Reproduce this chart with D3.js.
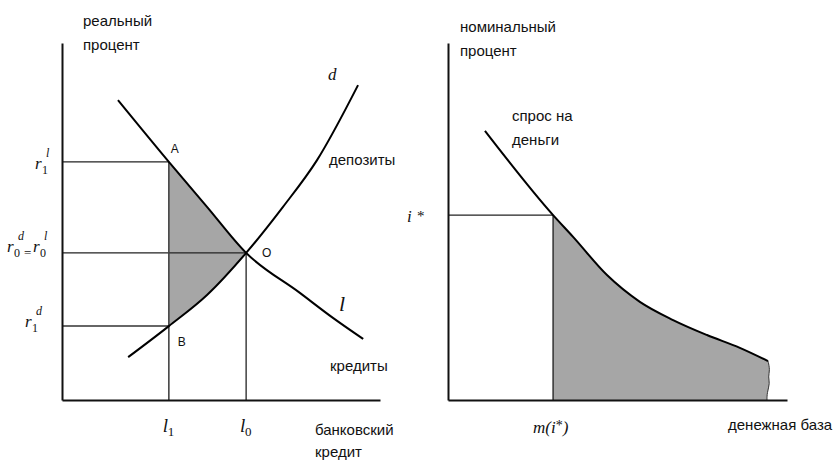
<!DOCTYPE html>
<html>
<head>
<meta charset="utf-8">
<script src="https://cdn.jsdelivr.net/npm/d3@7"></script>
<style>
  html, body { margin: 0; padding: 0; background: #fff; }
  svg { display: block; }
  .lbl { font-family: "Liberation Sans", Arial, sans-serif; font-size: 15px; fill: #111; }
  .pt  { font-family: "Liberation Sans", Arial, sans-serif; font-size: 12px; fill: #111; }
  .math { font-family: "Liberation Serif", "Times New Roman", serif; font-style: italic; fill: #111; }
</style>
</head>
<body>
<script>
// ---- Left panel: loan market (units: credit 0..100, real rate 0..100) ----
const loanDemand    = [[17.6, 84.0], [33.6, 66.7], [45.6, 54.1], [57.9, 41.2], [74.8, 30.0], [85.2, 23.0], [94.7, 17.1]];
const depositSupply = [[20.8, 12.0], [33.6, 20.7], [45.6, 29.4], [57.9, 41.2], [69.5, 54.1], [80.2, 67.2], [93.1, 88.2]];
const creditLevels  = [33.6, 57.9];          // l1, l0
const rateLevels    = [66.7, 41.2, 20.7];    // r1^l, r0, r1^d

// ---- Right panel: money demand (units: base 0..100, nominal rate 0..100) ----
const moneyDemand = [[10.9, 75.4], [31.0, 51.8], [36.9, 45.7], [46.9, 35.0], [56.6, 27.5],
                     [66.4, 22.4], [76.4, 18.2], [86.1, 14.6], [94.4, 10.9]];
const moneyEdge   = [[94.4, 10.9], [95.0, 8.4], [94.4, 6.4], [95.0, 4.8], [94.1, 2.0], [94.1, 0]];
const iStar = 51.8;
const mStar = 31.0;

const W = 837, H = 461;
const svg = d3.select("body").append("svg").attr("width", W).attr("height", H);

const xL = d3.scaleLinear().domain([0, 100]).range([62, 380]);
const yL = d3.scaleLinear().domain([0, 100]).range([400, 43]);
const xR = d3.scaleLinear().domain([0, 100]).range([448, 787]);
const yR = d3.scaleLinear().domain([0, 100]).range([400, 43]);

const shade = "#a6a6a6";

// ================= LEFT PANEL =================
const gL = svg.append("g");
const lineL = d3.line().x(d => xL(d[0])).y(d => yL(d[1])).curve(d3.curveMonotoneX);

// shaded wedge between the loan and deposit curves, from l1 to l0
svg.append("clipPath").attr("id", "wedgeClip")
  .append("rect")
  .attr("x", xL(creditLevels[0])).attr("y", 0)
  .attr("width", xL(creditLevels[1]) - xL(creditLevels[0])).attr("height", H);

const wedgePath = lineL(loanDemand) + lineL(depositSupply.slice().reverse()).replace(/^M/, "L") + "Z";
gL.append("path").attr("d", wedgePath).attr("fill", shade).attr("stroke", "none")
  .attr("clip-path", "url(#wedgeClip)");

// guide lines
const guide = (g, x1, y1, x2, y2, col, w) => g.append("line")
  .attr("x1", x1).attr("y1", y1).attr("x2", x2).attr("y2", y2)
  .attr("stroke", col).attr("stroke-width", w);

guide(gL, xL(0), yL(rateLevels[0]), xL(creditLevels[0]), yL(rateLevels[0]), "#222", 1.3);
guide(gL, xL(0), yL(rateLevels[1]), xL(creditLevels[1]), yL(rateLevels[1]), "#222", 1.3);
guide(gL, xL(0), yL(rateLevels[2]), xL(creditLevels[0]), yL(rateLevels[2]), "#666", 2);
guide(gL, xL(creditLevels[0]), yL(rateLevels[0]), xL(creditLevels[0]), yL(0), "#444", 1.6);
guide(gL, xL(creditLevels[1]), yL(rateLevels[1]), xL(creditLevels[1]), yL(0), "#222", 1.3);

// curves
gL.append("path").attr("d", lineL(loanDemand)).attr("fill", "none").attr("stroke", "#000").attr("stroke-width", 2);
gL.append("path").attr("d", lineL(depositSupply)).attr("fill", "none").attr("stroke", "#000").attr("stroke-width", 2);

// axes (bare lines)
const styleAxis = g => { g.select(".domain").attr("stroke", "#111").attr("stroke-width", 2); g.selectAll(".tick").remove(); };
gL.append("g").attr("transform", `translate(0,${yL(0)})`)
  .call(d3.axisBottom(xL).tickValues([]).tickSizeOuter(0)).call(styleAxis);
gL.append("g").attr("transform", `translate(${xL(0)},0)`)
  .call(d3.axisLeft(yL).tickValues([]).tickSizeOuter(0)).call(styleAxis);

// text helpers
function txt(g, x, y, s, cls, size) {
  const t = g.append("text").attr("x", x).attr("y", y).attr("class", cls).text(s);
  if (size) t.style("font-size", size + "px");
  return t;
}

// axis titles
txt(gL, 83, 26, "реальный", "lbl");
txt(gL, 83, 50, "процент", "lbl");
txt(gL, 315, 435, "банковский", "lbl");
txt(gL, 315, 457, "кредит", "lbl");
txt(gL, 329, 165, "депозиты", "lbl");
txt(gL, 330, 371, "кредиты", "lbl");

// curve names
txt(gL, 328, 80, "d", "math", 17);
txt(gL, 339, 311, "l", "math", 22);

// points
txt(gL, xL(creditLevels[0]) + 2, yL(rateLevels[0]) - 9, "A", "pt");
txt(gL, xL(creditLevels[1]) + 16, yL(rateLevels[1]) + 4, "O", "pt");
txt(gL, xL(creditLevels[0]) + 9, yL(rateLevels[2]) + 20, "B", "pt");

// rate labels on the vertical axis
function rateLabel(x, yBase, sub, sup) {
  txt(gL, x, yBase, "r", "math", 17);
  txt(gL, x + 7, yBase + 5, sub, "math", 12).style("font-style", "normal");
  txt(gL, x + 11, yBase - 12, sup, "math", 12);
}
const r1l = yL(rateLevels[0]), r0 = yL(rateLevels[1]), r1d = yL(rateLevels[2]);
rateLabel(35, r1l + 7, "1", "l");
rateLabel(7, r0 - 1, "0", "d");
txt(gL, 24, r0 + 4, "=", "math", 13).style("font-style", "normal");
rateLabel(33, r0 - 1, "0", "l");
rateLabel(25, r1d + 1, "1", "d");

// credit labels under the horizontal axis
function creditLabel(xc, sub) {
  txt(gL, xc - 6, 432, "l", "math", 19);
  txt(gL, xc - 1, 436, sub, "math", 13).style("font-style", "normal");
}
creditLabel(xL(creditLevels[0]), "1");
creditLabel(xL(creditLevels[1]), "0");

// ================= RIGHT PANEL =================
const gR = svg.append("g");
const lineR = d3.line().x(d => xR(d[0])).y(d => yR(d[1])).curve(d3.curveMonotoneX);
const edgeLine = d3.line().x(d => xR(d[0])).y(d => yR(d[1])).curve(d3.curveBasis);

svg.append("clipPath").attr("id", "moneyClip")
  .append("rect").attr("x", xR(mStar)).attr("y", 0).attr("width", W - xR(mStar)).attr("height", H);

const moneyFill = lineR(moneyDemand) + edgeLine(moneyEdge).replace(/^M/, "L") +
  `L${xR(0)},${yR(0)}Z`;
gR.append("path").attr("d", moneyFill).attr("fill", shade).attr("clip-path", "url(#moneyClip)");
gR.append("path").attr("d", edgeLine(moneyEdge)).attr("fill", "none").attr("stroke", "#333").attr("stroke-width", 1);

guide(gR, xR(0), yR(iStar), xR(mStar), yR(iStar), "#222", 1.3);
guide(gR, xR(mStar), yR(iStar), xR(mStar), yR(0), "#333", 1.5);

gR.append("path").attr("d", lineR(moneyDemand)).attr("fill", "none").attr("stroke", "#000").attr("stroke-width", 2);

gR.append("g").attr("transform", `translate(0,${yR(0)})`)
  .call(d3.axisBottom(xR).tickValues([]).tickSizeOuter(0)).call(styleAxis);
gR.append("g").attr("transform", `translate(${xR(0)},0)`)
  .call(d3.axisLeft(yR).tickValues([]).tickSizeOuter(0)).call(styleAxis);

txt(gR, 460, 32, "номинальный", "lbl");
txt(gR, 460, 56, "процент", "lbl");
txt(gR, 512, 121, "спрос на", "lbl");
txt(gR, 512, 145, "деньги", "lbl");
txt(gR, 728, 430, "денежная база", "lbl");

// i* and m(i*)
txt(gR, 407, yR(iStar) + 7, "i", "math", 17);
txt(gR, 417, yR(iStar) + 6, "*", "math", 15).style("font-style", "normal");
const mt = gR.append("text").attr("x", xR(mStar) - 20).attr("y", 433).attr("class", "math").style("font-size", "17px");
mt.append("tspan").text("m(i");
mt.append("tspan").attr("dy", -3).style("font-style", "normal").style("font-size", "14px").text("*");
mt.append("tspan").attr("dy", 3).text(")");
</script>
</body>
</html>
